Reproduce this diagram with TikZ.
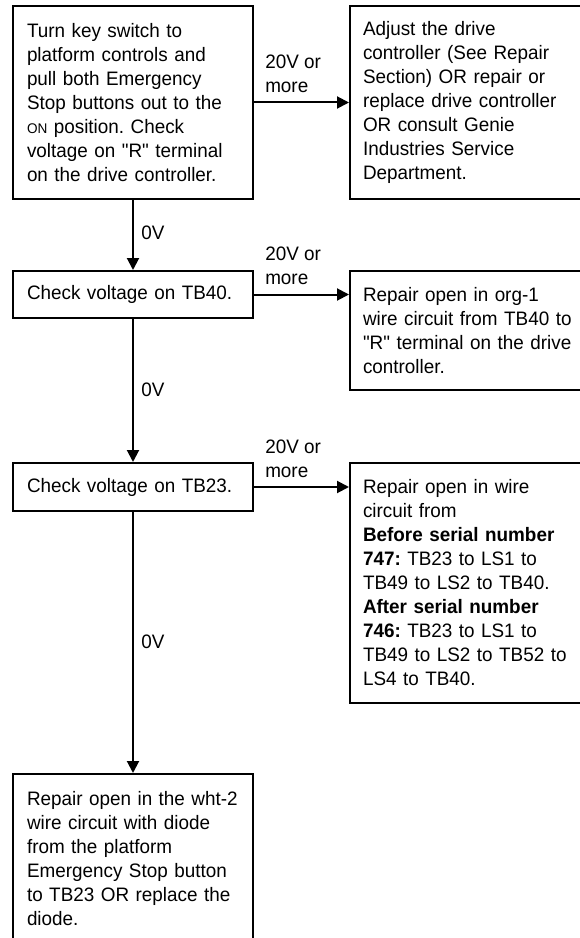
\documentclass[tikz,border=0pt]{standalone}
\usepackage{fontspec}
\setmainfont[Ligatures=TeXOff,FakeStretch=0.97]{Liberation Sans}
\usetikzlibrary{arrows.meta}
\newcommand{\smallon}{{\fontsize{10.5pt}{12pt}\selectfont ON}}
\tikzset{
  every node/.style={font=\fontsize{14.6pt}{18pt}\selectfont\frenchspacing},
  leftbox/.style={draw, line width=1.5pt, minimum width=180pt, text width=159pt,
    inner xsep=10.5pt, inner ysep=0pt, align=left},
  rightbox/.style={draw, line width=1.5pt, minimum width=187.5pt, text width=168pt,
    inner xsep=9.75pt, inner ysep=0pt, align=left},
  conn/.style={line width=1.5pt, -{Triangle[length=9pt,width=9pt]}},
  lbl/.style={inner sep=0pt, align=left}
}
\begin{document}
\begin{tikzpicture}[x=0.75pt,y=-0.75pt]
\useasboundingbox (0,0) rectangle (579,938);
% left column
\node[leftbox, minimum height=144.75pt] (A) at (133,102.5)
  {Turn key switch to\\platform controls and\\pull both Emergency\\Stop buttons out to the\\\smallon{} position. Check\\voltage on "R" terminal\\on the drive controller.};
\node[leftbox, minimum height=35.25pt] (B) at (133,294.5) {Check voltage on TB40.};
\node[leftbox, minimum height=36pt] (C) at (133,487) {Check voltage on TB23.};
\node[leftbox, minimum height=126.75pt] (D) at (133,858.5)
  {Repair open in the \mbox{wht-2}\\wire circuit with diode\\from the platform\\Emergency Stop button\\to TB23 OR replace the\\diode.};
% right column
\node[rightbox, minimum height=144.75pt] (R1) at (475,102.5)
  {Adjust the drive\\controller (See Repair\\Section) OR repair or\\replace drive controller\\OR consult Genie\\Industries Service\\Department.};
\node[rightbox, minimum height=89.25pt] (R2) at (475,330.5)
  {Repair open in org-1\\wire circuit from TB40 to\\"R" terminal on the drive\\controller.};
\node[rightbox, minimum height=180pt] (R3) at (475,583)
  {Repair open in wire\\circuit from\\\textbf{Before serial number}\\\textbf{747:} TB23 to LS1 to\\TB49 to LS2 to TB40.\\\textbf{After serial number}\\\textbf{746:} TB23 to LS1 to\\TB49 to LS2 to TB52 to\\LS4 to TB40.};
% connectors
\draw[conn] (A.south) -- (B.north);
\draw[conn] (B.south) -- (C.north);
\draw[conn] (C.south) -- (D.north);
\draw[conn] (A.east) -- (A.east -| R1.west);
\draw[conn] (B.east) -- (B.east -| R2.west);
\draw[conn] (C.east) -- (C.east -| R3.west);
% labels
\node[lbl, anchor=west] (l1) at (141,233) {0V};
\node[lbl, anchor=west] (l2) at (141,390) {0V};
\node[lbl, anchor=west] (l3) at (141,642) {0V};
\node[lbl, anchor=south west] (h1) at (265,93) {20V or\\more};
\node[lbl, anchor=south west] (h2) at (265,285) {20V or\\more};
\node[lbl, anchor=south west] (h3) at (265,478) {20V or\\more};
\end{tikzpicture}
\end{document}
